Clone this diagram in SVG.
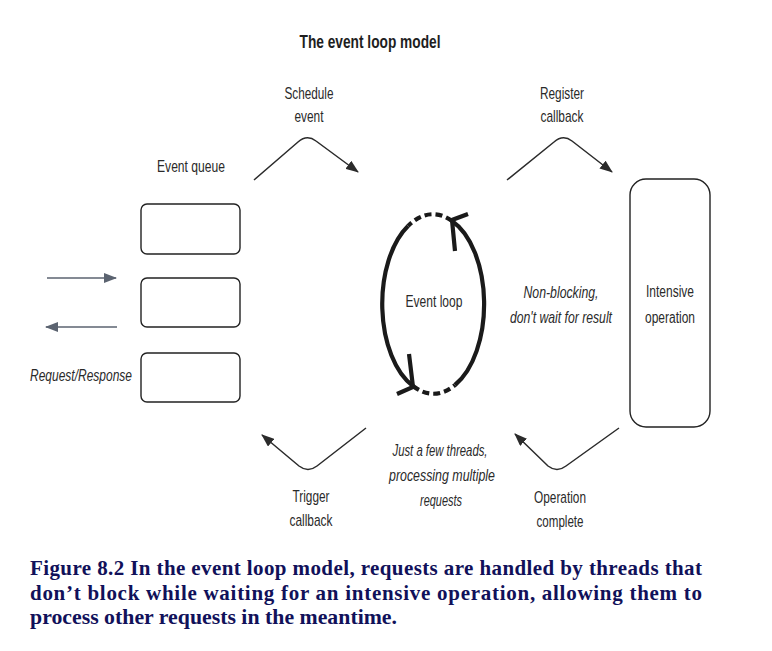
<svg xmlns="http://www.w3.org/2000/svg" width="772" height="651" viewBox="0 0 772 651">
<style>
.lbl{font-family:"Liberation Sans",Arial,sans-serif;font-size:17px;fill:#2a2a2a;text-anchor:middle}
.sm{font-size:16px}
.it{font-style:italic}
.ttl{font-family:"Liberation Sans",Arial,sans-serif;font-size:19px;font-weight:bold;fill:#1e1e1e;text-anchor:middle}
.cap{font-family:"Liberation Serif","Times New Roman",serif;font-size:21px;font-weight:bold;fill:#11115a}
.box{fill:#fff;stroke:#222;stroke-width:1.4}
.conn{fill:none;stroke:#2b2b2b;stroke-width:1.5}
.req{fill:none;stroke:#5b6370;stroke-width:1.6}
.loop{fill:none;stroke:#1a1a1a;stroke-width:4.2}
.dash{stroke-dasharray:7 4}
</style>
<defs>
<marker id="ah" markerUnits="userSpaceOnUse" markerWidth="14" markerHeight="10" refX="12" refY="5" orient="auto">
<path d="M0,0 L13,5 L0,10 z" fill="#2b2b2b"/>
</marker>
<marker id="ahg" markerUnits="userSpaceOnUse" markerWidth="14" markerHeight="10" refX="12" refY="5" orient="auto">
<path d="M0,0 L13,5 L0,10 z" fill="#5b6370"/>
</marker>
</defs>
<rect width="772" height="651" fill="#fff"/>
<text class="ttl" x="370" y="48" textLength="141" lengthAdjust="spacingAndGlyphs">The event loop model</text>

<g id="event-queue">
<text class="lbl" x="191" y="172" textLength="68" lengthAdjust="spacingAndGlyphs">Event queue</text>
<rect class="box" x="141" y="204" width="99" height="50" rx="6"/>
<rect class="box" x="141" y="278" width="99" height="49" rx="6"/>
<rect class="box" x="141" y="353" width="99" height="49" rx="6"/>
</g>

<g id="request-response">
<text class="lbl it" x="81" y="381" textLength="102" lengthAdjust="spacingAndGlyphs">Request/Response</text>
</g>

<g id="event-loop">
<path class="loop" d="M408,226 A50,89 0 0,0 413,386"/>
<path class="loop" d="M455,385 A50,89 0 0,0 452,221"/>
<path class="loop dash" d="M452,221 A50,89 0 0,0 408,226"/>
<path class="loop dash" d="M413,386 A50,89 0 0,0 455,385"/>
<polyline class="loop" points="468,214 452,220 455,251"/>
<polyline class="loop" points="409,354 413,387 397,394"/>
<text class="lbl" x="434" y="307" textLength="57" lengthAdjust="spacingAndGlyphs">Event loop</text>
</g>

<g id="non-blocking">
<text class="lbl it" x="561" y="298" textLength="75" lengthAdjust="spacingAndGlyphs">Non-blocking,</text>
<text class="lbl it" x="561" y="323" textLength="102" lengthAdjust="spacingAndGlyphs">don't wait for result</text>
</g>

<g id="intensive-operation">
<rect class="box" x="630" y="179" width="80" height="248" rx="16"/>
<text class="lbl sm" x="670" y="297" textLength="48" lengthAdjust="spacingAndGlyphs">Intensive</text>
<text class="lbl sm" x="670" y="323" textLength="50" lengthAdjust="spacingAndGlyphs">operation</text>
</g>

<g id="threads-note">
<text class="lbl it" x="440" y="456" textLength="95" lengthAdjust="spacingAndGlyphs">Just a few threads,</text>
<text class="lbl it" x="442" y="481" textLength="106" lengthAdjust="spacingAndGlyphs">processing multiple</text>
<text class="lbl it" x="441" y="506" textLength="42" lengthAdjust="spacingAndGlyphs">requests</text>
</g>

<g id="labels">
<text class="lbl" x="309" y="99" textLength="49" lengthAdjust="spacingAndGlyphs">Schedule</text>
<text class="lbl" x="309" y="122" textLength="29" lengthAdjust="spacingAndGlyphs">event</text>
<text class="lbl" x="562" y="99" textLength="44" lengthAdjust="spacingAndGlyphs">Register</text>
<text class="lbl" x="562" y="122" textLength="43" lengthAdjust="spacingAndGlyphs">callback</text>
<text class="lbl" x="311" y="502" textLength="37" lengthAdjust="spacingAndGlyphs">Trigger</text>
<text class="lbl" x="311" y="526" textLength="43" lengthAdjust="spacingAndGlyphs">callback</text>
<text class="lbl" x="560" y="503" textLength="52" lengthAdjust="spacingAndGlyphs">Operation</text>
<text class="lbl" x="560" y="527" textLength="47" lengthAdjust="spacingAndGlyphs">complete</text>
</g>

<g id="connectors">
<path class="conn" marker-end="url(#ah)" d="M254,180 L298,142 Q307,134 316,141 L358,172"/>
<path class="conn" marker-end="url(#ah)" d="M507,180 L554,142 Q563,134 572,141 L612,172"/>
<path class="conn" marker-end="url(#ah)" d="M366,428 L317,466 Q308,473 299,466 L262,435"/>
<path class="conn" marker-end="url(#ah)" d="M619,428 L566,466 Q557,473 548,466 L515,434"/>
<path class="req" marker-end="url(#ahg)" d="M47,278 L116,278"/>
<path class="req" marker-end="url(#ahg)" d="M117,327 L46,327"/>
</g>

<g id="caption">
<text class="cap" x="30" y="575" textLength="672" lengthAdjust="spacing">Figure 8.2 In the event loop model, requests are handled by threads that</text>
<text class="cap" x="30" y="600" textLength="672" lengthAdjust="spacing">don’t block while waiting for an intensive operation, allowing them to</text>
<text class="cap" x="30" y="624" textLength="367" lengthAdjust="spacingAndGlyphs">process other requests in the meantime.</text>
</g>
</svg>
